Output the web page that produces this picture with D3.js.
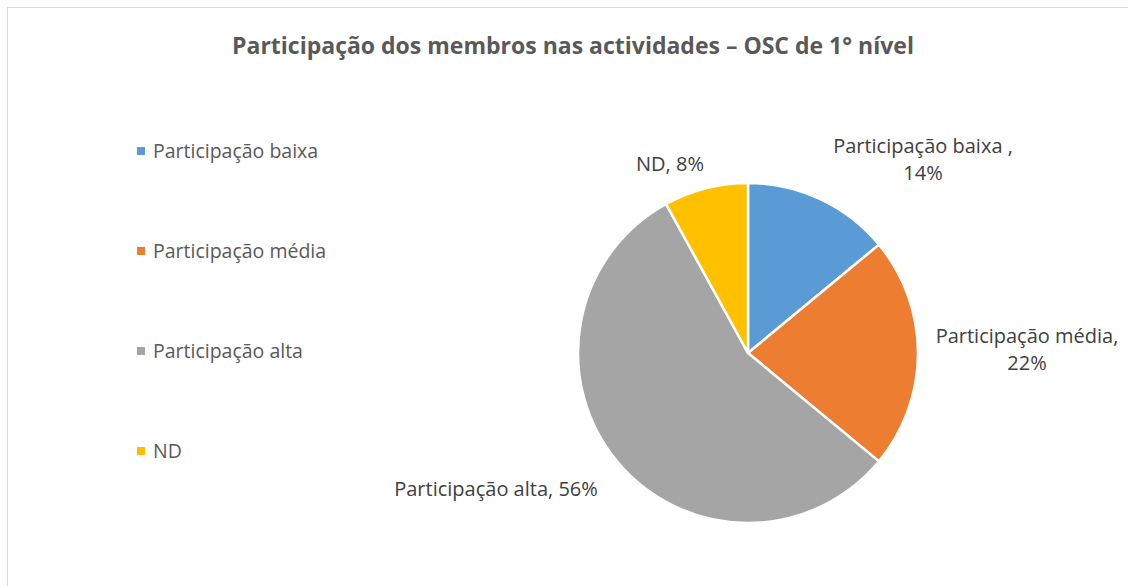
<!DOCTYPE html>
<html>
<head>
<meta charset="utf-8">
<script src="https://cdn.jsdelivr.net/npm/d3@7"></script>
<style>
  body { margin: 0; background: #fff; }
  text { font-family: "Open Sans", "Noto Sans", sans-serif; }
</style>
</head>
<body>
<script>
// chart data
var categories = ["Participação baixa", "Participação média", "Participação alta", "ND"];
var values = [14, 22, 56, 8];
var labelNames = ["Participação baixa ,", "Participação média,", "Participação alta,", "ND,"];
var colors = ["#5B9BD5", "#ED7D31", "#A5A5A5", "#FFC000"];

var width = 1128, height = 586;

var svg = d3.select("body")
  .append("svg")
    .attr("width", width)
    .attr("height", height);

// chart area border (runs off the right and bottom edges)
svg.append("rect")
  .attr("x", 7.5).attr("y", 7.5)
  .attr("width", width + 20).attr("height", height + 20)
  .attr("fill", "#fff")
  .attr("stroke", "#d9d9d9")
  .attr("stroke-width", 1);

// title
svg.append("text")
  .attr("x", 573)
  .attr("y", 54)
  .attr("text-anchor", "middle")
  .attr("font-size", "23px")
  .attr("font-weight", "bold")
  .attr("fill", "#595959")
  .text("Participação dos membros nas actividades – OSC de 1° nível");

// legend
var legend = svg.selectAll(".legend")
  .data(categories)
  .enter()
  .append("g")
    .attr("class", "legend")
    .attr("transform", function(d, i) { return "translate(137," + (151 + i * 100) + ")"; });

legend.append("rect")
  .attr("x", 0).attr("y", -4)
  .attr("width", 8).attr("height", 8)
  .attr("fill", function(d, i) { return colors[i]; });

legend.append("text")
  .attr("x", 16)
  .attr("y", 7)
  .attr("font-size", "19.5px")
  .attr("fill", "#595959")
  .text(function(d) { return d; });

// pie
var cx = 748, cy = 353, r = 170;

var pie = d3.pie().sort(null).value(function(d) { return d; });
var arcs = pie(values);
var arc = d3.arc().innerRadius(0).outerRadius(r);

var g = svg.append("g").attr("transform", "translate(" + cx + "," + cy + ")");

g.selectAll("path")
  .data(arcs)
  .enter()
  .append("path")
    .attr("d", arc)
    .attr("fill", function(d, i) { return colors[i]; })
    .attr("stroke", "#fff")
    .attr("stroke-width", 2.5)
    .attr("stroke-linejoin", "round");

// data labels, placed outside the slices like Excel's best fit
var labelPos = [
  {x: 923, y: 153, lines: 2},
  {x: 1027, y: 343, lines: 2},
  {x: 496, y: 496, lines: 1},
  {x: 670, y: 171, lines: 1}
];

var labels = svg.selectAll(".dlabel")
  .data(arcs)
  .enter()
  .append("text")
    .attr("class", "dlabel")
    .attr("text-anchor", "middle")
    .attr("font-size", "20px")
    .attr("fill", "#404040")
    .attr("transform", function(d, i) { return "translate(" + labelPos[i].x + "," + labelPos[i].y + ")"; });

labels.each(function(d, i) {
  var t = d3.select(this);
  var pct = d.data + "%";
  if (labelPos[i].lines === 2) {
    t.append("tspan").attr("x", 0).attr("dy", 0).text(labelNames[i]);
    t.append("tspan").attr("x", 0).attr("dy", 27).text(pct);
  } else {
    t.text(labelNames[i] + " " + pct);
  }
});
</script>
</body>
</html>
